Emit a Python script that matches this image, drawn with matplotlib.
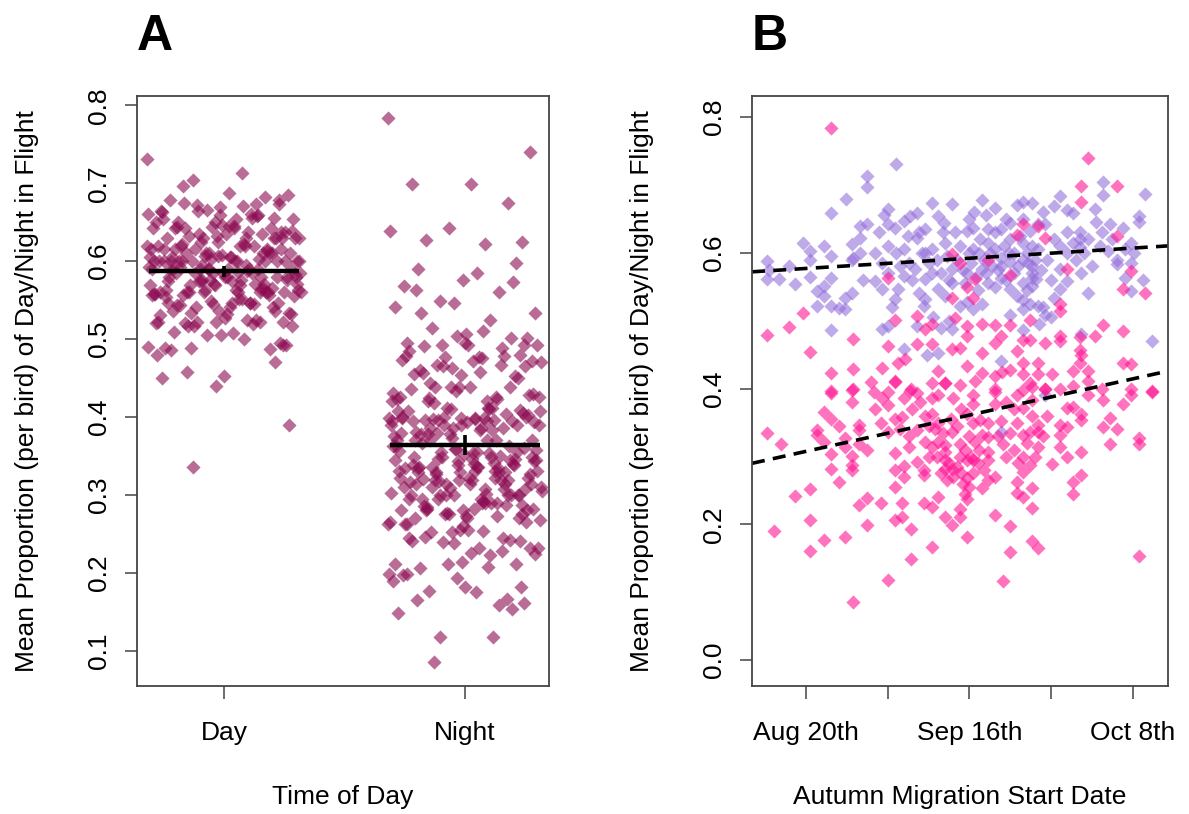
import numpy as np
import matplotlib
matplotlib.use("Agg")
import matplotlib.pyplot as plt

plt.rcParams['font.family'] = ['Liberation Sans', 'DejaVu Sans']

# per-bird points: (start date on axis scale, mean proportion in flight)
# date axis: 0 = Aug 20th, 2 = Sep 16th, 4 = Oct 8th
day_pts = [
    (1.10, 0.731), (0.75, 0.713), (0.75, 0.697), (0.49, 0.679), (0.31, 0.659), (1.01, 0.664), (1.54, 0.673), (1.79, 0.672),
    (0.66, 0.639), (0.75, 0.642), (-0.04, 0.615), (0.22, 0.610), (0.05, 0.603), (0.05, 0.590), (-0.48, 0.588), (-0.48, 0.561),
    (-0.33, 0.561), (-0.21, 0.580), (-0.13, 0.554), (0.05, 0.564), (0.31, 0.595), (0.31, 0.563), (0.22, 0.551), (0.13, 0.544),
    (0.22, 0.536), (0.13, 0.522), (0.31, 0.522), (0.40, 0.519), (0.48, 0.517), (0.48, 0.534), (0.56, 0.541), (0.31, 0.486),
    (0.56, 0.613), (0.56, 0.590), (0.58, 0.592), (0.66, 0.622), (1.01, 0.642), (1.09, 0.637), (1.20, 0.647), (1.27, 0.654),
    (1.36, 0.659), (1.46, 0.635), (1.38, 0.630), (1.62, 0.654), (1.69, 0.644), (1.01, 0.610), (0.93, 0.585), (0.85, 0.558),
    (0.93, 0.546), (0.93, 0.488), (1.01, 0.492), (1.09, 0.532), (1.13, 0.546), (1.20, 0.566), (1.20, 0.606), (1.26, 0.585),
    (1.34, 0.576), (1.36, 0.622), (1.46, 0.600), (1.54, 0.606), (1.46, 0.561), (1.54, 0.571), (1.38, 0.541), (1.46, 0.532),
    (1.62, 0.546), (1.70, 0.536), (1.79, 0.556), (1.79, 0.576), (1.70, 0.615), (1.82, 0.630), (1.20, 0.458), (1.36, 0.492),
    (1.62, 0.453), (1.79, 0.488), (1.44, 0.522), (-0.45, 0.575), (0.66, 0.600), (0.70, 0.560), (0.85, 0.600), (0.90, 0.630),
    (1.00, 0.570), (1.05, 0.520), (0.95, 0.655),
    (3.64, 0.704), (3.64, 0.685), (4.15, 0.687), (2.15, 0.678), (3.11, 0.683), (2.31, 0.666), (2.06, 0.660), (2.58, 0.671),
    (2.66, 0.675), (2.76, 0.673), (3.03, 0.669), (3.19, 0.663), (3.27, 0.658), (3.54, 0.664), (4.07, 0.654), (4.07, 0.645),
    (2.84, 0.643), (2.92, 0.643), (2.50, 0.644), (3.72, 0.642), (3.88, 0.637), (1.97, 0.632), (2.05, 0.637), (2.23, 0.635),
    (2.31, 0.630), (2.39, 0.635), (3.19, 0.630), (3.35, 0.630), (3.35, 0.620), (3.45, 0.620), (3.62, 0.630), (2.74, 0.632),
    (2.50, 0.620), (2.13, 0.620), (2.23, 0.615), (1.88, 0.610), (2.05, 0.605), (2.31, 0.605), (2.66, 0.615), (2.76, 0.610),
    (2.84, 0.605), (3.03, 0.620), (3.11, 0.610), (3.27, 0.615), (3.35, 0.608), (3.98, 0.615), (3.70, 0.603), (3.80, 0.590),
    (3.80, 0.583), (3.90, 0.563), (3.98, 0.544), (3.45, 0.541), (3.37, 0.571), (3.19, 0.558), (3.11, 0.546), (3.03, 0.534),
    (3.11, 0.576), (2.66, 0.590), (2.76, 0.580), (2.76, 0.571), (2.76, 0.563), (2.82, 0.561), (2.76, 0.551), (2.66, 0.556),
    (2.50, 0.546), (2.58, 0.536), (2.66, 0.531), (2.74, 0.524), (2.84, 0.522), (2.66, 0.517), (2.50, 0.508), (2.92, 0.509),
    (2.66, 0.487), (2.31, 0.549), (2.23, 0.556), (2.15, 0.524), (2.05, 0.517), (1.88, 0.522), (1.97, 0.527), (2.39, 0.563),
    (2.39, 0.580), (2.15, 0.576), (1.97, 0.571), (2.50, 0.586), (2.39, 0.593), (4.23, 0.470), (2.39, 0.440), (3.37, 0.480),
    (3.98, 0.585), (2.39, 0.336), (2.92, 0.390), (3.90, 0.605), (4.02, 0.600), (4.12, 0.560), (1.55, 0.505), (1.65, 0.490),
    (1.75, 0.500), (2.90, 0.520), (2.85, 0.495), (3.00, 0.505), (1.48, 0.450),
    (1.85, 0.590), (1.92, 0.575), (1.95, 0.555), (2.00, 0.600), (2.02, 0.585), (2.08, 0.565), (2.10, 0.545), (2.12, 0.600),
    (2.18, 0.590), (2.20, 0.570), (2.25, 0.600), (2.28, 0.580), (2.35, 0.575), (2.42, 0.610), (2.45, 0.560), (2.48, 0.600),
    (2.55, 0.570), (2.55, 0.600), (2.60, 0.580), (2.62, 0.625), (2.70, 0.600), (2.70, 0.545), (2.72, 0.585), (2.80, 0.590),
    (2.88, 0.575), (2.95, 0.590), (3.00, 0.560), (1.60, 0.590), (1.65, 0.570), (1.72, 0.595), (1.75, 0.560), (1.68, 0.630),
    (1.50, 0.585), (1.42, 0.600), (1.30, 0.560), (1.25, 0.625), (1.15, 0.580), (1.10, 0.600), (2.00, 0.650), (2.20, 0.655),
    (2.45, 0.650), (2.65, 0.650), (2.90, 0.660), (3.40, 0.600), (3.50, 0.580), (3.55, 0.645), (3.30, 0.590), (3.20, 0.600),
    (3.60, 0.610), (3.75, 0.620),
]

night_pts = [
    (0.31, 0.784), (-0.04, 0.511), (-0.21, 0.491), (-0.48, 0.479), (0.05, 0.454), (0.57, 0.473), (0.31, 0.423), (0.31, 0.396),
    (0.57, 0.429), (0.57, 0.399), (1.01, 0.563), (1.09, 0.501), (1.01, 0.463), (0.93, 0.431), (1.09, 0.411), (1.21, 0.443),
    (1.36, 0.466), (1.36, 0.507), (1.54, 0.495), (1.46, 0.488), (1.54, 0.466), (1.62, 0.426), (1.79, 0.458), (1.79, 0.534),
    (1.79, 0.598), (1.82, 0.504), (1.70, 0.408), (1.27, 0.396), (1.13, 0.438),
    (3.45, 0.740), (3.37, 0.699), (3.80, 0.699), (3.37, 0.675), (2.66, 0.643), (2.84, 0.639), (2.92, 0.622), (2.58, 0.627),
    (3.80, 0.625), (3.19, 0.576), (2.50, 0.568), (2.07, 0.561), (1.97, 0.549), (2.05, 0.534), (1.88, 0.585), (2.23, 0.590),
    (3.98, 0.573), (3.88, 0.546), (4.15, 0.541), (3.11, 0.524), (3.11, 0.514), (2.74, 0.501), (3.64, 0.493), (3.88, 0.485),
    (3.54, 0.478), (3.11, 0.477), (3.11, 0.470), (3.35, 0.476), (3.35, 0.457), (3.37, 0.450), (3.35, 0.438), (3.45, 0.426),
    (3.27, 0.426), (2.92, 0.467), (2.66, 0.472), (2.74, 0.472), (2.58, 0.455), (2.66, 0.438), (2.84, 0.438), (2.66, 0.421),
    (2.84, 0.421), (3.01, 0.421), (2.31, 0.493), (2.15, 0.495), (2.39, 0.478), (2.31, 0.467), (2.50, 0.493), (1.97, 0.492),
    (1.97, 0.477), (1.88, 0.460), (2.15, 0.453), (1.97, 0.433), (2.15, 0.423), (2.07, 0.411), (2.31, 0.418), (2.50, 0.428),
    (3.88, 0.438), (3.98, 0.436), (3.27, 0.404), (3.45, 0.411), (3.62, 0.399), (3.98, 0.399), (4.23, 0.396), (2.74, 0.409),
    (2.92, 0.399), (2.31, 0.399),
    (-0.48, 0.334), (-0.30, 0.318), (0.31, 0.394), (0.56, 0.398), (0.56, 0.381), (0.83, 0.395), (0.93, 0.386), (1.01, 0.376),
    (1.09, 0.410), (1.20, 0.386), (1.28, 0.400), (1.36, 0.393), (1.54, 0.408), (1.54, 0.386), (1.62, 0.390), (1.70, 0.408),
    (1.80, 0.386), (0.22, 0.366), (0.31, 0.355), (0.13, 0.339), (0.13, 0.331), (0.22, 0.322), (0.48, 0.327), (0.48, 0.314),
    (0.65, 0.346), (0.65, 0.339), (0.65, 0.319), (0.75, 0.309), (0.31, 0.303), (0.56, 0.301), (0.31, 0.282), (0.56, 0.287),
    (0.56, 0.280), (0.40, 0.262), (0.92, 0.350), (1.09, 0.355), (1.18, 0.358), (1.01, 0.336), (1.26, 0.330), (1.36, 0.339),
    (1.46, 0.359), (1.54, 0.363), (1.62, 0.349), (1.79, 0.336), (1.46, 0.322), (1.62, 0.322), (1.70, 0.317), (1.54, 0.314),
    (1.26, 0.314), (1.09, 0.305), (1.36, 0.292), (1.20, 0.286), (1.20, 0.270), (1.09, 0.255), (1.44, 0.280), (1.44, 0.273),
    (1.70, 0.295), (1.70, 0.282), (1.79, 0.282), (1.80, 0.270), (-0.13, 0.242), (0.05, 0.252), (-0.39, 0.190), (0.05, 0.207),
    (0.22, 0.177), (0.05, 0.161), (0.48, 0.182), (0.75, 0.199), (0.65, 0.228), (0.75, 0.239), (0.92, 0.232), (1.18, 0.232),
    (1.09, 0.206), (1.18, 0.211), (1.28, 0.193), (1.28, 0.149), (1.01, 0.118), (0.57, 0.086), (1.44, 0.232), (1.54, 0.226),
    (1.62, 0.241), (1.54, 0.167), (1.70, 0.211), (1.79, 0.199), (1.70, 0.307), (1.09, 0.280),
    (1.97, 0.182), (2.31, 0.214), (2.50, 0.197), (2.50, 0.159), (2.41, 0.117), (2.76, 0.224), (2.76, 0.175), (2.84, 0.165),
    (4.07, 0.154), (1.97, 0.238), (1.88, 0.211), (1.88, 0.223), (2.15, 0.253), (2.23, 0.265), (2.31, 0.270), (2.23, 0.295),
    (2.23, 0.307), (2.05, 0.275), (1.97, 0.268), (2.05, 0.295), (1.97, 0.295), (1.88, 0.300), (1.88, 0.319), (2.07, 0.322),
    (2.15, 0.331), (2.23, 0.329), (2.05, 0.349), (2.13, 0.354), (2.23, 0.349), (1.97, 0.363), (2.05, 0.378), (2.05, 0.390),
    (2.31, 0.395), (2.31, 0.378), (1.88, 0.405), (2.39, 0.352), (2.50, 0.334), (2.41, 0.319), (2.58, 0.349), (2.66, 0.331),
    (2.74, 0.336), (2.84, 0.336), (2.84, 0.346), (2.76, 0.359), (2.66, 0.371), (2.76, 0.383), (2.66, 0.398), (2.76, 0.403),
    (2.84, 0.314), (2.66, 0.300), (2.74, 0.287), (2.66, 0.277), (2.58, 0.263), (2.76, 0.254), (2.58, 0.246), (2.66, 0.241),
    (2.58, 0.390), (2.92, 0.400), (3.01, 0.289), (3.11, 0.346), (3.19, 0.344), (3.11, 0.331), (3.11, 0.314), (3.19, 0.300),
    (3.27, 0.373), (3.37, 0.363), (3.37, 0.354), (3.19, 0.371), (3.37, 0.307), (3.37, 0.273), (3.27, 0.263), (3.27, 0.245),
    (3.11, 0.400), (3.45, 0.390), (3.64, 0.383), (3.88, 0.378), (3.98, 0.390), (3.64, 0.344), (3.72, 0.356), (3.80, 0.341),
    (3.72, 0.319), (4.07, 0.327), (4.07, 0.319), (4.23, 0.395),
    (1.60, 0.300), (1.65, 0.275), (1.72, 0.265), (1.75, 0.290), (1.85, 0.285), (1.90, 0.275), (1.92, 0.260), (1.95, 0.310),
    (2.00, 0.330), (2.02, 0.300), (1.85, 0.345), (1.78, 0.355), (1.68, 0.335), (1.58, 0.340), (1.50, 0.300), (1.50, 0.345),
    (2.10, 0.290), (2.12, 0.310), (2.18, 0.280), (2.00, 0.255), (1.95, 0.245), (2.35, 0.330), (2.45, 0.300), (2.55, 0.310),
    (2.60, 0.290), (2.70, 0.320), (2.80, 0.300), (2.90, 0.330), (2.45, 0.380), (2.55, 0.370), (1.40, 0.380), (1.30, 0.370),
    (1.15, 0.340), (0.85, 0.370), (0.40, 0.345), (0.80, 0.410), (1.00, 0.395), (1.90, 0.370), (2.40, 0.425), (2.95, 0.360),
]

# group means and standard errors (panel A)
group_names = ["Day", "Night"]
group_means = [0.587, 0.364]
group_se = [0.007, 0.013]

# fitted lines (panel B): intercept at date 0, slope per axis unit
day_fit = (0.577, 0.0075)
night_fit = (0.3076, 0.0267)

date_ticks = [0, 1, 2, 3, 4]
date_labels = ["Aug 20th", "", "Sep 16th", "", "Oct 8th"]

day_date, day_prop = np.array(day_pts).T
night_date, night_prop = np.array(night_pts).T

col_a = '#8B0A50'
col_day = '#9370DB'
col_night = '#FF1493'
ylab = "Mean Proportion (per bird) of Day/Night in Flight"
FS = 19
MS = 52

fig = plt.figure(figsize=(11.89, 8.14), dpi=100)
axA = fig.add_axes([137 / 1189, 1 - 686 / 814, 412 / 1189, 590 / 814])
axB = fig.add_axes([752 / 1189, 1 - 686 / 814, 416 / 1189, 590 / 814])


def jitter(n, width=0.64):
    # evenly spread horizontal offsets for a strip chart
    return ((np.arange(n) * 0.6180339887) % 1.0 - 0.5) * width


# --- panel A
for i, vals in enumerate([day_prop, night_prop]):
    xpos = i + 1 + jitter(len(vals))
    axA.scatter(xpos, vals, marker='D', s=MS, color=col_a, alpha=0.6, linewidths=0)
    axA.plot([i + 1 - 0.31, i + 1 + 0.31], [group_means[i]] * 2, color='black', lw=3.2, solid_capstyle='butt')
    axA.plot([i + 1, i + 1], [group_means[i] - group_se[i], group_means[i] + group_se[i]],
             color='black', lw=2.6, solid_capstyle='butt')

axA.set_xlim(0.639, 2.349)
axA.set_ylim(0.0547, 0.812)
axA.set_xticks([1, 2])
axA.set_xticklabels(group_names)
axA.set_yticks(np.arange(0.1, 0.81, 0.1))
axA.set_yticklabels([f"{v:.1f}" for v in np.arange(0.1, 0.81, 0.1)])
axA.set_xlabel("Time of Day", fontsize=FS)

# --- panel B
axB.scatter(day_date, day_prop, marker='D', s=MS, color=col_day, alpha=0.6, linewidths=0)
axB.scatter(night_date, night_prop, marker='D', s=MS, color=col_night, alpha=0.6, linewidths=0)
for b0, b1 in [day_fit, night_fit]:
    axB.axline((0, b0), slope=b1, color='black', lw=2.6, dashes=(3.6, 2.3))

axB.set_xlim(-0.66, 4.43)
axB.set_ylim(-0.038, 0.831)
axB.set_xticks(date_ticks)
axB.set_xticklabels(date_labels)
axB.set_yticks([0.0, 0.2, 0.4, 0.6, 0.8])
axB.set_yticklabels(["0.0", "0.2", "0.4", "0.6", "0.8"])
axB.set_xlabel("Autumn Migration Start Date", fontsize=FS)

for ax in (axA, axB):
    for sp in ax.spines.values():
        sp.set_color('#444444')
        sp.set_linewidth(1.3)
    ax.tick_params(axis='both', direction='out', length=9, width=1.1, color='#444444',
                   labelsize=FS, labelcolor='black')
    ax.tick_params(axis='x', pad=16)
    ax.tick_params(axis='y', pad=10, labelrotation=90)
    for lab in ax.get_yticklabels():
        lab.set_va('center')
    ax.set_ylabel(ylab, fontsize=FS)
    ax.xaxis.set_label_coords(0.5, -0.188)
    ax.xaxis.label.set_va('center')
    ax.yaxis.set_label_coords(-110 / (ax.get_position().width * 1189), 0.5)
    ax.yaxis.label.set_va('center')

fig.text(137 / 1189, 1 - 50 / 814, "A", fontsize=36, fontweight='bold', ha='left', va='baseline')
fig.text(752 / 1189, 1 - 50 / 814, "B", fontsize=36, fontweight='bold', ha='left', va='baseline')

fig.savefig("out.png", dpi=100, facecolor='white')
